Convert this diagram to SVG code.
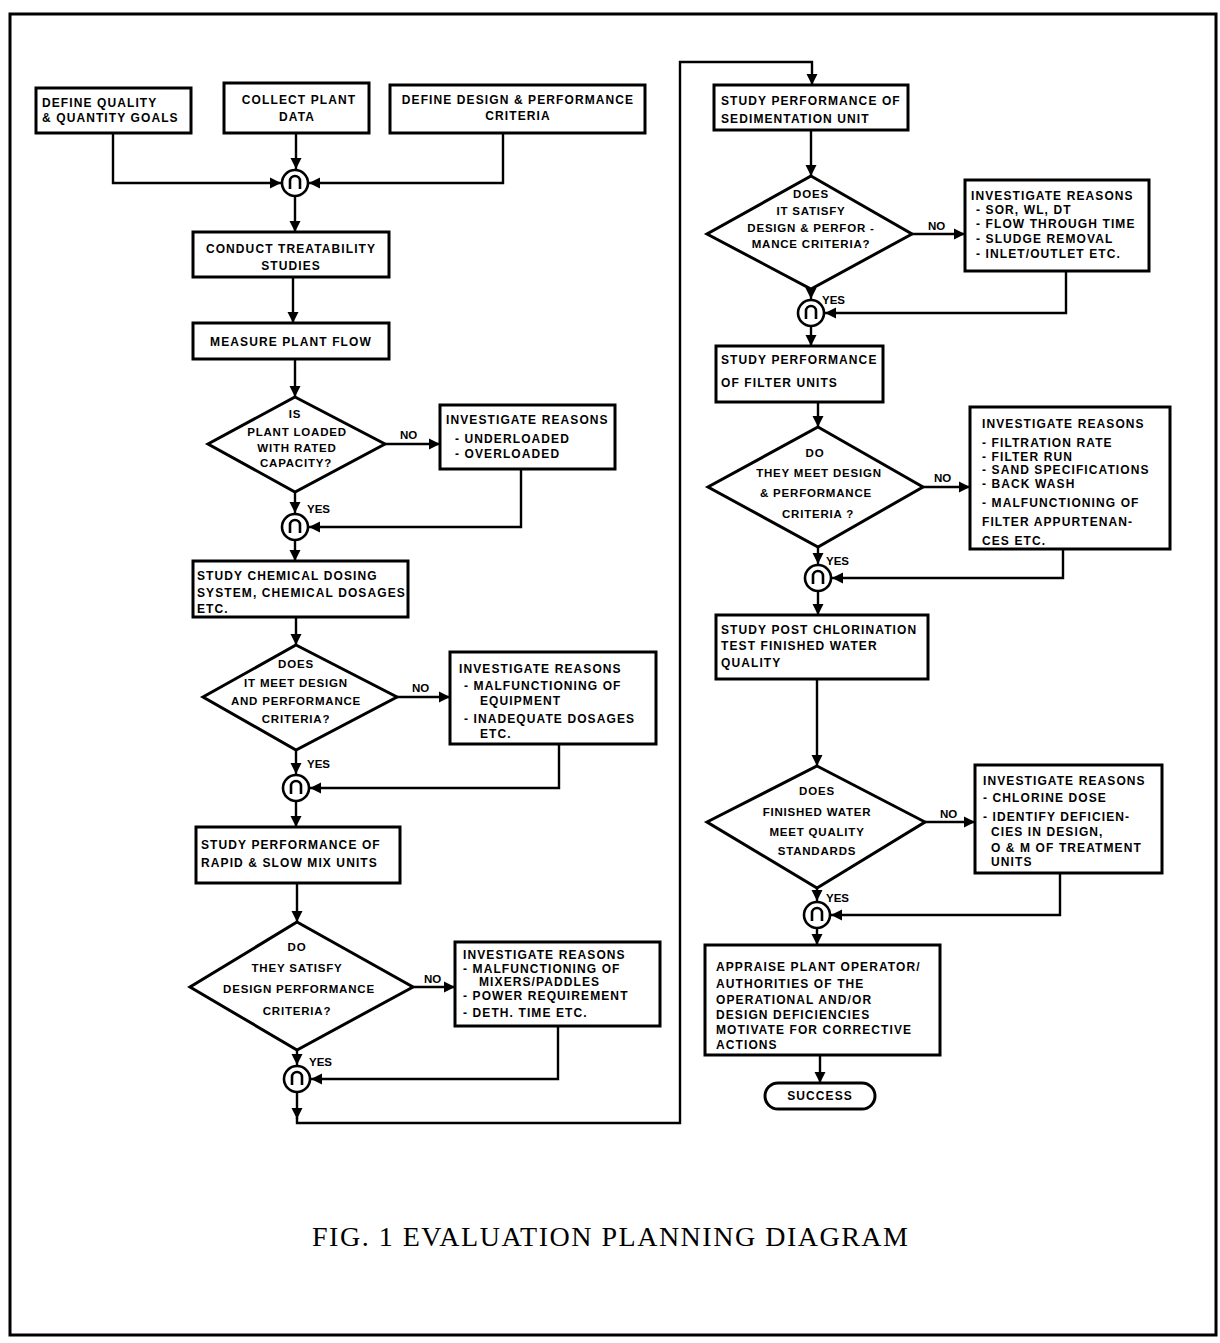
<svg xmlns="http://www.w3.org/2000/svg" width="1220" height="1343" viewBox="0 0 1220 1343">
<style>
.b{fill:#fff;stroke:#000;stroke-width:3}
.c{fill:none;stroke:#000;stroke-width:2.4}
.t{font-family:"Liberation Sans",Arial,sans-serif;font-weight:bold;font-size:12px;letter-spacing:1.1px;fill:#000}
.d{font-family:"Liberation Sans",Arial,sans-serif;font-weight:bold;font-size:11.5px;letter-spacing:0.8px;fill:#000;text-anchor:middle}
.m{text-anchor:middle}
.l{font-family:"Liberation Sans",Arial,sans-serif;font-weight:bold;font-size:11.5px;fill:#000}
.j{fill:#fff;stroke:#000;stroke-width:2.6}
.u{fill:none;stroke:#000;stroke-width:2.6}
</style>
<defs>
<marker id="ah" viewBox="0 0 10 10" refX="10" refY="5" markerWidth="4.6" markerHeight="4.6" markerUnits="strokeWidth" orient="auto">
<path d="M0,0 L10,5 L0,10 z" fill="#000"/>
</marker>
</defs>
<rect x="10" y="14" width="1206" height="1321" fill="none" stroke="#000" stroke-width="3"/>

<g id="connectors">
<path class="c" d="M113,134 V183 H281" marker-end="url(#ah)"/>
<path class="c" d="M296,133 V169" marker-end="url(#ah)"/>
<path class="c" d="M503,133 V183 H309" marker-end="url(#ah)"/>
<path class="c" d="M295,197 V232" marker-end="url(#ah)"/>
<path class="c" d="M293,277 V323" marker-end="url(#ah)"/>
<path class="c" d="M295,359 V397" marker-end="url(#ah)"/>
<path class="c" d="M385,444 H440" marker-end="url(#ah)"/>
<path class="c" d="M295,492 V513" marker-end="url(#ah)"/>
<path class="c" d="M521,469 V527 H309" marker-end="url(#ah)"/>
<path class="c" d="M295,541 V561" marker-end="url(#ah)"/>
<path class="c" d="M296,617 V645" marker-end="url(#ah)"/>
<path class="c" d="M397,697 H450" marker-end="url(#ah)"/>
<path class="c" d="M296,750 V774" marker-end="url(#ah)"/>
<path class="c" d="M559,744 V788 H310" marker-end="url(#ah)"/>
<path class="c" d="M296,802 V827" marker-end="url(#ah)"/>
<path class="c" d="M297,883 V922" marker-end="url(#ah)"/>
<path class="c" d="M413,987 H455" marker-end="url(#ah)"/>
<path class="c" d="M297,1050 V1065" marker-end="url(#ah)"/>
<path class="c" d="M558,1026 V1079 H311" marker-end="url(#ah)"/>
<path class="c" d="M297,1093 V1119" marker-end="url(#ah)"/>
<path class="c" d="M297,1118 V1123 H680 V62 H812 V85" marker-end="url(#ah)"/>
<path class="c" d="M811,130 V176" marker-end="url(#ah)"/>
<path class="c" d="M912,234 H965" marker-end="url(#ah)"/>
<path class="c" d="M811,289 V299" marker-end="url(#ah)"/>
<path class="c" d="M1066,271 V313 H825" marker-end="url(#ah)"/>
<path class="c" d="M811,327 V346" marker-end="url(#ah)"/>
<path class="c" d="M818,402 V427" marker-end="url(#ah)"/>
<path class="c" d="M923,487 H970" marker-end="url(#ah)"/>
<path class="c" d="M818,547 V564" marker-end="url(#ah)"/>
<path class="c" d="M1063,549 V578 H832" marker-end="url(#ah)"/>
<path class="c" d="M818,592 V615" marker-end="url(#ah)"/>
<path class="c" d="M817,679 V766" marker-end="url(#ah)"/>
<path class="c" d="M925,822 H975" marker-end="url(#ah)"/>
<path class="c" d="M817,888 V901" marker-end="url(#ah)"/>
<path class="c" d="M1060,873 V915 H831" marker-end="url(#ah)"/>
<path class="c" d="M817,929 V945" marker-end="url(#ah)"/>
<path class="c" d="M820,1055 V1083" marker-end="url(#ah)"/>
</g>

<g id="labels">
<text class="l" x="400" y="439">NO</text>
<text class="l" x="307" y="513">YES</text>
<text class="l" x="412" y="692">NO</text>
<text class="l" x="307" y="768">YES</text>
<text class="l" x="424" y="983">NO</text>
<text class="l" x="309" y="1066">YES</text>
<text class="l" x="928" y="230">NO</text>
<text class="l" x="822" y="304">YES</text>
<text class="l" x="934" y="482">NO</text>
<text class="l" x="826" y="565">YES</text>
<text class="l" x="940" y="818">NO</text>
<text class="l" x="826" y="902">YES</text>
</g>

<g id="n_goals"><rect class="b" x="36" y="88" width="155" height="45"/>
<text class="t" x="42" y="107">DEFINE QUALITY</text><text class="t" x="42" y="122">&amp; QUANTITY GOALS</text></g>
<g id="n_collect"><rect class="b" x="224" y="83" width="145" height="50"/>
<text class="t m" x="299" y="104">COLLECT PLANT</text><text class="t m" x="297" y="121">DATA</text></g>
<g id="n_criteria"><rect class="b" x="390" y="85" width="255" height="48"/>
<text class="t m" x="518" y="104">DEFINE DESIGN &amp; PERFORMANCE</text><text class="t m" x="518" y="120">CRITERIA</text></g>

<g id="j1"><circle class="j" cx="295" cy="183" r="13"/><path class="u" d="M290,189 V181 A5,5 0 0 1 300,181 V189"/></g>

<g id="n_treat"><rect class="b" x="193" y="232" width="196" height="45"/>
<text class="t m" x="291" y="253">CONDUCT TREATABILITY</text><text class="t m" x="291" y="270">STUDIES</text></g>
<g id="n_flow"><rect class="b" x="193" y="323" width="196" height="36"/>
<text class="t m" x="291" y="346">MEASURE PLANT FLOW</text></g>

<g id="d_loaded"><polygon class="b" points="295,397 385,444 295,492 208,444"/>
<text class="d" x="295" y="418">IS</text><text class="d" x="297" y="436">PLANT LOADED</text><text class="d" x="297" y="452">WITH RATED</text><text class="d" x="296" y="467">CAPACITY?</text></g>
<g id="n_inv1"><rect class="b" x="440" y="405" width="175" height="64"/>
<text class="t" x="446" y="424">INVESTIGATE REASONS</text><text class="t" x="455" y="443">- UNDERLOADED</text><text class="t" x="455" y="458">- OVERLOADED</text></g>

<g id="j2"><circle class="j" cx="295" cy="527" r="13"/><path class="u" d="M290,533 V525 A5,5 0 0 1 300,525 V533"/></g>

<g id="n_dosing"><rect class="b" x="193" y="561" width="215" height="56"/>
<text class="t" x="197" y="580">STUDY CHEMICAL DOSING</text><text class="t" x="197" y="597">SYSTEM, CHEMICAL DOSAGES</text><text class="t" x="197" y="613">ETC.</text></g>

<g id="d_meet"><polygon class="b" points="296,645 397,697 296,750 203,697"/>
<text class="d" x="296" y="668">DOES</text><text class="d" x="296" y="687">IT MEET DESIGN</text><text class="d" x="296" y="705">AND PERFORMANCE</text><text class="d" x="296" y="723">CRITERIA?</text></g>
<g id="n_inv2"><rect class="b" x="450" y="652" width="206" height="92"/>
<text class="t" x="459" y="673">INVESTIGATE REASONS</text><text class="t" x="464" y="690">- MALFUNCTIONING OF</text><text class="t" x="480" y="705">EQUIPMENT</text><text class="t" x="464" y="723">- INADEQUATE DOSAGES</text><text class="t" x="480" y="738">ETC.</text></g>

<g id="j3"><circle class="j" cx="296" cy="788" r="13"/><path class="u" d="M291,794 V786 A5,5 0 0 1 301,786 V794"/></g>

<g id="n_mix"><rect class="b" x="196" y="827" width="204" height="56"/>
<text class="t" x="201" y="849">STUDY PERFORMANCE OF</text><text class="t" x="201" y="867">RAPID &amp; SLOW MIX UNITS</text></g>

<g id="d_satisfy"><polygon class="b" points="297,922 413,987 297,1050 190,987"/>
<text class="d" x="297" y="951">DO</text><text class="d" x="297" y="972">THEY SATISFY</text><text class="d" x="299" y="993">DESIGN PERFORMANCE</text><text class="d" x="297" y="1015">CRITERIA?</text></g>
<g id="n_inv3"><rect class="b" x="455" y="942" width="205" height="84"/>
<text class="t" x="463" y="959">INVESTIGATE REASONS</text><text class="t" x="463" y="973">- MALFUNCTIONING OF</text><text class="t" x="479" y="986">MIXERS/PADDLES</text><text class="t" x="463" y="1000">- POWER REQUIREMENT</text><text class="t" x="463" y="1017">- DETH. TIME ETC.</text></g>

<g id="j4"><circle class="j" cx="297" cy="1079" r="13"/><path class="u" d="M292,1085 V1077 A5,5 0 0 1 302,1077 V1085"/></g>

<g id="n_sed"><rect class="b" x="714" y="85" width="194" height="45"/>
<text class="t" x="721" y="105">STUDY PERFORMANCE OF</text><text class="t" x="721" y="123">SEDIMENTATION UNIT</text></g>

<g id="d_sed"><polygon class="b" points="811,176 912,234 811,289 707,234"/>
<text class="d" x="811" y="198">DOES</text><text class="d" x="811" y="215">IT SATISFY</text><text class="d" x="811" y="232">DESIGN &amp; PERFOR -</text><text class="d" x="811" y="248">MANCE CRITERIA?</text></g>
<g id="n_inv4"><rect class="b" x="965" y="180" width="184" height="91"/>
<text class="t" x="971" y="200">INVESTIGATE REASONS</text><text class="t" x="976" y="214">- SOR, WL, DT</text><text class="t" x="976" y="228">- FLOW THROUGH TIME</text><text class="t" x="976" y="243">- SLUDGE REMOVAL</text><text class="t" x="976" y="258">- INLET/OUTLET ETC.</text></g>

<g id="j5"><circle class="j" cx="811" cy="313" r="13"/><path class="u" d="M806,319 V311 A5,5 0 0 1 816,311 V319"/></g>

<g id="n_filter"><rect class="b" x="716" y="346" width="167" height="56"/>
<text class="t" x="721" y="364">STUDY PERFORMANCE</text><text class="t" x="721" y="387">OF FILTER UNITS</text></g>

<g id="d_filter"><polygon class="b" points="818,427 923,487 818,547 708,487"/>
<text class="d" x="815" y="457">DO</text><text class="d" x="819" y="477">THEY MEET DESIGN</text><text class="d" x="816" y="497">&amp; PERFORMANCE</text><text class="d" x="818" y="518">CRITERIA ?</text></g>
<g id="n_inv5"><rect class="b" x="970" y="407" width="200" height="142"/>
<text class="t" x="982" y="428">INVESTIGATE REASONS</text><text class="t" x="982" y="447">- FILTRATION RATE</text><text class="t" x="982" y="461">- FILTER RUN</text><text class="t" x="982" y="474">- SAND SPECIFICATIONS</text><text class="t" x="982" y="488">- BACK WASH</text><text class="t" x="982" y="507">- MALFUNCTIONING OF</text><text class="t" x="982" y="526">FILTER APPURTENAN-</text><text class="t" x="982" y="545">CES ETC.</text></g>

<g id="j6"><circle class="j" cx="818" cy="578" r="13"/><path class="u" d="M813,584 V576 A5,5 0 0 1 823,576 V584"/></g>

<g id="n_chlor"><rect class="b" x="716" y="615" width="212" height="64"/>
<text class="t" x="721" y="634">STUDY POST CHLORINATION</text><text class="t" x="721" y="650">TEST FINISHED WATER</text><text class="t" x="721" y="667">QUALITY</text></g>

<g id="d_quality"><polygon class="b" points="817,766 925,822 817,888 707,822"/>
<text class="d" x="817" y="795">DOES</text><text class="d" x="817" y="816">FINISHED WATER</text><text class="d" x="817" y="836">MEET QUALITY</text><text class="d" x="817" y="855">STANDARDS</text></g>
<g id="n_inv6"><rect class="b" x="975" y="765" width="187" height="108"/>
<text class="t" x="983" y="785">INVESTIGATE REASONS</text><text class="t" x="983" y="802">- CHLORINE DOSE</text><text class="t" x="983" y="821">- IDENTIFY DEFICIEN-</text><text class="t" x="991" y="836">CIES IN DESIGN,</text><text class="t" x="991" y="852">O &amp; M OF TREATMENT</text><text class="t" x="991" y="866">UNITS</text></g>

<g id="j7"><circle class="j" cx="817" cy="915" r="13"/><path class="u" d="M812,921 V913 A5,5 0 0 1 822,913 V921"/></g>

<g id="n_appraise"><rect class="b" x="705" y="945" width="235" height="110"/>
<text class="t" x="716" y="971">APPRAISE PLANT OPERATOR/</text><text class="t" x="716" y="988">AUTHORITIES OF THE</text><text class="t" x="716" y="1004">OPERATIONAL AND/OR</text><text class="t" x="716" y="1019">DESIGN DEFICIENCIES</text><text class="t" x="716" y="1034">MOTIVATE FOR CORRECTIVE</text><text class="t" x="716" y="1049">ACTIONS</text></g>

<g id="n_success"><rect class="b" x="765" y="1083" width="110" height="26" rx="13" ry="13"/>
<text class="t m" x="820" y="1100">SUCCESS</text></g>

<text x="610" y="1246" text-anchor="middle" font-family="'Liberation Serif','Times New Roman',serif" font-size="28" textLength="596" lengthAdjust="spacing" fill="#000">FIG. 1  EVALUATION PLANNING DIAGRAM</text>
</svg>
